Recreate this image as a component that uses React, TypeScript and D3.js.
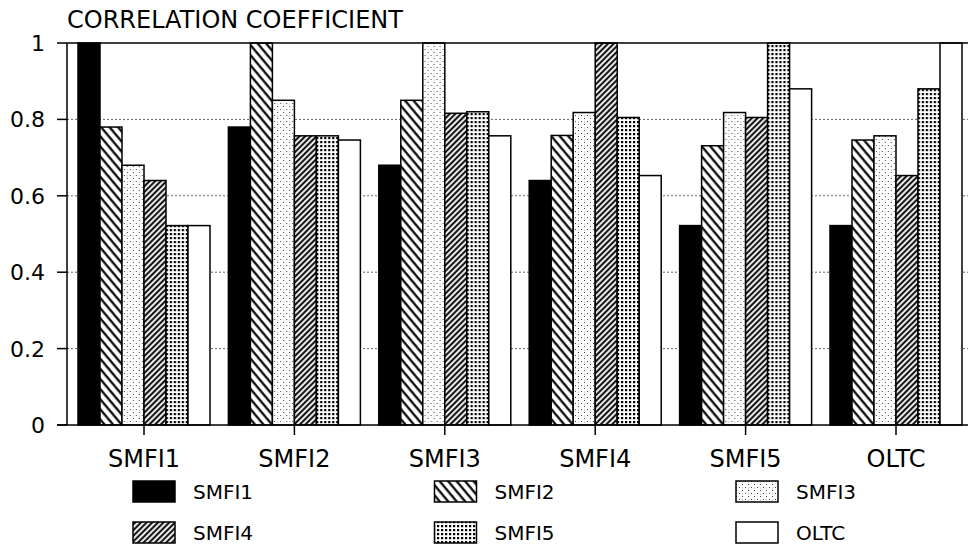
import { useRef, useEffect } from 'react';
import * as d3 from 'd3';

const WIDTH = 968;
const HEIGHT = 549;

const categories = ['SMFI1', 'SMFI2', 'SMFI3', 'SMFI4', 'SMFI5', 'OLTC'];
const seriesNames = ['SMFI1', 'SMFI2', 'SMFI3', 'SMFI4', 'SMFI5', 'OLTC'];

// one array per series, values across the six groups
const smfi1Vals = [1.0, 0.78, 0.68, 0.64, 0.522, 0.522];
const smfi2Vals = [0.78, 1.0, 0.85, 0.758, 0.731, 0.746];
const smfi3Vals = [0.68, 0.85, 1.0, 0.818, 0.818, 0.757];
const smfi4Vals = [0.64, 0.757, 0.816, 1.0, 0.805, 0.653];
const smfi5Vals = [0.522, 0.757, 0.82, 0.805, 1.0, 0.88];
const oltcVals = [0.522, 0.746, 0.757, 0.653, 0.88, 1.0];

const yTicks = [0, 0.2, 0.4, 0.6, 0.8, 1];
const yTickLabels = ['0', '0.2', '0.4', '0.6', '0.8', '1'];

const FONT = '"DejaVu Sans", Verdana, sans-serif';

export default function App() {
  const svgRef = useRef<SVGSVGElement>(null);

  useEffect(() => {
    const svg = d3.select(svgRef.current);
    svg.selectAll('*').remove();

    const seriesVals = [smfi1Vals, smfi2Vals, smfi3Vals, smfi4Vals, smfi5Vals, oltcVals];
    const fills = ['#000', 'url(#p2)', 'url(#p3)', 'url(#p4)', 'url(#p5)', '#fff'];

    const left = 67;
    const top = 43;
    const bottom = 425;

    const y = d3.scaleLinear().domain([0, 1]).range([bottom, top]);
    const x0 = d3.scaleBand<string>().domain(categories).range([68.8, 971.2]).padding(0);
    const groupW = 132;
    const x1 = d3
      .scaleBand<string>()
      .domain(seriesNames)
      .range([(x0.bandwidth() - groupW) / 2, (x0.bandwidth() + groupW) / 2])
      .padding(0);

    svg.append('rect').attr('width', WIDTH).attr('height', HEIGHT).attr('fill', '#fff');

    // Patterns
    const defs = svg.append('defs');
    const p2 = defs
      .append('pattern')
      .attr('id', 'p2')
      .attr('patternUnits', 'userSpaceOnUse')
      .attr('width', 6.5)
      .attr('height', 10)
      .attr('patternTransform', 'rotate(-40)');
    p2.append('rect').attr('width', 6.5).attr('height', 10).attr('fill', '#fff');
    p2.append('line').attr('x1', 1.5).attr('y1', 0).attr('x2', 1.5).attr('y2', 10)
      .attr('stroke', '#000').attr('stroke-width', 2.2);

    const p3 = defs
      .append('pattern')
      .attr('id', 'p3')
      .attr('patternUnits', 'userSpaceOnUse')
      .attr('width', 6)
      .attr('height', 6);
    p3.append('rect').attr('width', 6).attr('height', 6).attr('fill', '#fff');
    [[1, 1], [4, 4], [4, 1.5]].forEach(([cx, cy], i) => {
      p3.append('rect').attr('x', cx).attr('y', cy).attr('width', 1).attr('height', 1)
        .attr('fill', i === 2 ? '#aaa' : '#444');
    });

    const p4 = defs
      .append('pattern')
      .attr('id', 'p4')
      .attr('patternUnits', 'userSpaceOnUse')
      .attr('width', 4)
      .attr('height', 10)
      .attr('patternTransform', 'rotate(45)');
    p4.append('rect').attr('width', 4).attr('height', 10).attr('fill', '#fff');
    p4.append('line').attr('x1', 1.2).attr('y1', 0).attr('x2', 1.2).attr('y2', 10)
      .attr('stroke', '#000').attr('stroke-width', 2);

    const p5 = defs
      .append('pattern')
      .attr('id', 'p5')
      .attr('patternUnits', 'userSpaceOnUse')
      .attr('width', 4)
      .attr('height', 4);
    p5.append('rect').attr('width', 4).attr('height', 4).attr('fill', '#fff');
    p5.append('rect').attr('x', 1).attr('y', 1).attr('width', 2.2).attr('height', 2.2).attr('fill', '#000');

    // Gridlines
    yTicks.slice(1, -1).forEach((t) => {
      svg
        .append('line')
        .attr('x1', left)
        .attr('x2', WIDTH)
        .attr('y1', y(t))
        .attr('y2', y(t))
        .attr('stroke', '#666')
        .attr('stroke-width', 1)
        .attr('stroke-dasharray', '2,2');
    });

    // Bars
    categories.forEach((cat, ci) => {
      const g = svg.append('g').attr('transform', `translate(${x0(cat)},0)`);
      seriesNames.forEach((s, si) => {
        const v = seriesVals[si][ci];
        g.append('rect')
          .attr('x', x1(s)!)
          .attr('y', y(v))
          .attr('width', x1.bandwidth())
          .attr('height', y(0) - y(v))
          .attr('fill', fills[si])
          .attr('stroke', '#000')
          .attr('stroke-width', 1.5);
      });
    });

    // Frame / axes
    svg.append('line').attr('x1', left).attr('x2', WIDTH).attr('y1', top).attr('y2', top)
      .attr('stroke', '#000').attr('stroke-width', 1.5);
    svg.append('line').attr('x1', left - 10).attr('x2', WIDTH).attr('y1', bottom).attr('y2', bottom)
      .attr('stroke', '#000').attr('stroke-width', 1.5);
    svg.append('line').attr('x1', left).attr('x2', left).attr('y1', top).attr('y2', bottom)
      .attr('stroke', '#000').attr('stroke-width', 1.5);

    yTicks.forEach((t, i) => {
      svg.append('line').attr('x1', left - 10).attr('x2', left).attr('y1', y(t)).attr('y2', y(t))
        .attr('stroke', '#000').attr('stroke-width', 1.5);
      svg
        .append('text')
        .attr('x', 45)
        .attr('y', y(t))
        .attr('dy', '0.36em')
        .attr('text-anchor', 'end')
        .attr('font-family', FONT)
        .attr('font-size', 22)
        .text(yTickLabels[i]);
    });

    categories.forEach((cat) => {
      const cx = x0(cat)! + x0.bandwidth() / 2;
      svg.append('line').attr('x1', cx).attr('x2', cx).attr('y1', bottom).attr('y2', bottom + 10)
        .attr('stroke', '#000').attr('stroke-width', 1.5);
      svg
        .append('text')
        .attr('x', cx)
        .attr('y', 467)
        .attr('text-anchor', 'middle')
        .attr('font-family', FONT)
        .attr('font-size', 24)
        .text(cat);
    });

    // Title
    svg
      .append('text')
      .attr('x', 67)
      .attr('y', 28)
      .attr('font-family', FONT)
      .attr('font-size', 24)
      .text('CORRELATION COEFFICIENT');

    // Legend: 3 columns x 2 rows
    seriesNames.forEach((name, si) => {
      const col = si % 3;
      const row = Math.floor(si / 3);
      const lx = 133 + col * 301.5;
      const ly = 481 + row * 41;
      svg
        .append('rect')
        .attr('x', lx)
        .attr('y', ly)
        .attr('width', 42)
        .attr('height', 21)
        .attr('fill', fills[si])
        .attr('stroke', '#000')
        .attr('stroke-width', 1.5);
      svg
        .append('text')
        .attr('x', lx + 60)
        .attr('y', ly + 11)
        .attr('dy', '0.36em')
        .attr('font-family', FONT)
        .attr('font-size', 20)
        .text(name);
    });
  }, []);

  return (
    <svg
      ref={svgRef}
      width={WIDTH}
      height={HEIGHT}
      style={{ position: 'absolute', left: 0, top: 0 }}
    />
  );
}
